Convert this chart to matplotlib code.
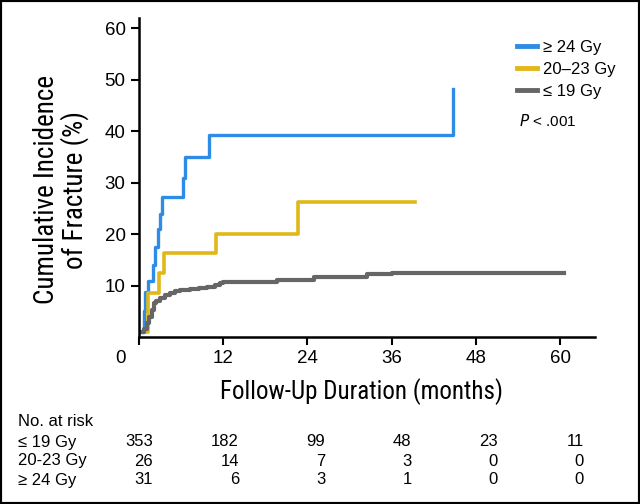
import matplotlib
matplotlib.use("Agg")
import matplotlib.pyplot as plt
import matplotlib.transforms as mtransforms
from matplotlib.patches import Rectangle

# step curves (months, cumulative incidence %)
t_hi = [0.4, 0.7, 0.9, 1.3, 2.0, 2.3, 2.7, 3.0, 3.3, 6.3, 6.6, 10.0, 44.8, 44.8]
y_hi = [1.0, 5.0, 8.7, 11.0, 14.0, 17.5, 21.0, 24.0, 27.3, 31.0, 35.0, 39.2, 48.2, 48.2]

t_mid = [0.6, 1.3, 2.9, 3.6, 11.0, 22.6, 39.3]
y_mid = [1.0, 8.5, 12.4, 16.4, 20.0, 26.2, 26.2]

t_lo = [0.5, 0.8, 1.2, 1.5, 1.8, 2.1, 2.5, 3.0, 3.7, 4.4, 5.2, 5.9, 7.3, 8.5, 9.7,
        10.8, 11.6, 12.0, 18.7, 19.7, 24.9, 32.5, 36.1, 60.6]
y_lo = [1.0, 1.5, 2.8, 4.0, 5.3, 6.6, 7.1, 7.6, 8.1, 8.5, 8.9, 9.2, 9.3, 9.5, 9.8,
        10.1, 10.5, 10.7, 10.7, 11.2, 11.7, 12.2, 12.5, 12.5]

labels = ["\u2265 24 Gy", "20\u201323 Gy", "\u2264 19 Gy"]
colors = ["#2f8ce6", "#e0b81a", "#666666"]

risk_times = [0, 12, 24, 36, 48, 60]
risk_names = ["\u2264 19 Gy", "20-23 Gy", "\u2265 24 Gy"]
risk_lo = [353, 182, 99, 48, 23, 11]
risk_mid = [26, 14, 7, 3, 0, 0]
risk_hi = [31, 6, 3, 1, 0, 0]

plt.rcParams["font.family"] = ["Liberation Sans", "DejaVu Sans"]
narrow = ["Roboto Condensed", "Roboto", "DejaVu Sans"]

fig = plt.figure(figsize=(6.4, 5.04), dpi=100)
ax = fig.add_axes([0.217, 0.331, 0.713, 0.633])

ax.step(t_hi, y_hi, where="post", color=colors[0], lw=2.4, label=labels[0])
ax.step(t_mid, y_mid, where="post", color=colors[1], lw=2.6, label=labels[1])
ax.step(t_lo, y_lo, where="post", color=colors[2], lw=3.0, label=labels[2])

ax.set_xlim(0, 65)
ax.set_ylim(0, 62)
ax.set_xticks(risk_times)
ax.set_yticks([10, 20, 30, 40, 50, 60])
ax.tick_params(labelsize=13.5, width=1.5, length=6, direction="out")
ax.spines["top"].set_visible(False)
ax.spines["right"].set_visible(False)
ax.spines["left"].set_linewidth(1.8)
ax.spines["bottom"].set_linewidth(1.8)

# the "0" label sits left of the corner
lab0 = ax.get_xticklabels()[0]
lab0.set_transform(lab0.get_transform() + mtransforms.ScaledTranslation(-0.18, 0, fig.dpi_scale_trans))

leg = ax.legend(loc="upper left", bbox_to_anchor=(517 / 640, 1 - 40 / 504),
                bbox_transform=fig.transFigure, frameon=False, fontsize=12,
                handlelength=1.2, handletextpad=0.35, labelspacing=0.42,
                borderpad=0, borderaxespad=0)
for h in leg.get_lines():
    h.set_linewidth(3.5)

fig.text(519 / 640, 1 - 121 / 504, "$P$ < .001", fontsize=11, va="center", ha="left")

fig.text(61 / 640, 1 - 190 / 504, "Cumulative Incidence\nof Fracture (%)", rotation=90,
         ha="center", va="center", multialignment="center", fontsize=19.5,
         family=narrow, linespacing=1.0)
fig.text(362 / 640, 1 - 392 / 504, "Follow-Up Duration (months)", ha="center", va="center",
         fontsize=18, family=narrow)

# number at risk table
base = mtransforms.blended_transform_factory(ax.transData, fig.transFigure)
fig.text(18 / 640, 1 - 422 / 504, "No. at risk", fontsize=12, va="center")
rows_y = [442, 461, 480]
for name, vals, yy in zip(risk_names, [risk_lo, risk_mid, risk_hi], rows_y):
    fig.text(18 / 640, 1 - yy / 504, name, fontsize=12, va="center")
    for k, (tt, v) in enumerate(zip(risk_times, vals)):
        trans = mtransforms.offset_copy(base, fig=fig, x=14 + 2 * k, y=0, units="dots")
        ax.text(tt, 1 - yy / 504, str(v), transform=trans, fontsize=12, va="center",
                ha="right")

fig.patches.append(Rectangle((0, 0), 1, 1, transform=fig.transFigure, fill=False,
                             edgecolor="black", lw=3))

fig.savefig("out.png", dpi=100)
